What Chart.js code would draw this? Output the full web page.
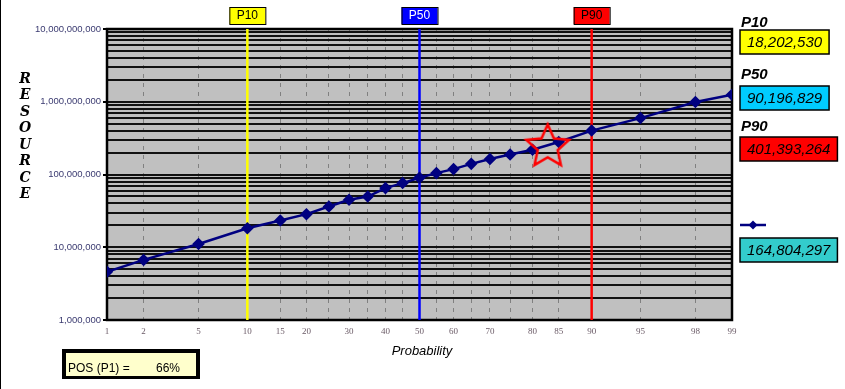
<!DOCTYPE html>
<html>
<head>
<meta charset="utf-8">
<script src="https://cdn.jsdelivr.net/npm/chart.js@4.4.1/dist/chart.umd.min.js"></script>
<style>
html,body{margin:0;padding:0;background:#fff;}
#wrap{width:845px;height:389px;}
</style>
</head>
<body>
<div id="wrap"><canvas id="chart" width="845" height="389"></canvas></div>
<script>
// datos
const probs = [1, 2, 5, 10, 15, 20, 25, 30, 35, 40, 45, 50, 55, 60, 65, 70, 75, 80, 85, 90, 95, 98, 99];
const resource = [4.6e6, 6.7e6, 11.1e6, 18.2e6, 23.3e6, 28.5e6, 36.3e6, 44.9e6, 49.8e6, 65e6, 76.2e6, 90.2e6,
                  104.5e6, 118.6e6, 140e6, 163e6, 188e6, 219e6, 280e6, 401.4e6, 596e6, 990e6, 1250e6];
const gridProbs = [1, 2, 5, 10, 15, 20, 25, 30, 35, 40, 45, 50, 55, 60, 65, 70, 75, 80, 85, 90, 95, 98, 99];
const labelProbs = [1, 2, 5, 10, 15, 20, 30, 40, 50, 60, 70, 80, 85, 90, 95, 98, 99];
const decades = [1e6, 1e7, 1e8, 1e9, 1e10];
const pNames = ['P10', 'P50', 'P90'];
const pProbs = [10, 50, 90];
const pValues = [18202530, 90196829, 401393264];
const pLineColors = ['#FFFF00', '#0000FF', '#FF0000'];
const pBoxColors = ['#FFFF00', '#00CCFF', '#FF0000'];
const meanValue = 164804297;
const starProb = 83;
const starValue = 240e6;
const posValue = 66;

// escala de probabilidad normal
function probit(p) {
  const a = [-3.969683028665376e+01, 2.209460984245205e+02, -2.759285104469687e+02, 1.383577518672690e+02, -3.066479806614716e+01, 2.506628277459239e+00];
  const b = [-5.447609879822406e+01, 1.615858368580409e+02, -1.556989798598866e+02, 6.680131188771972e+01, -1.328068155288572e+01];
  const c = [-7.784894002430293e-03, -3.223964580411365e-01, -2.400758277161838e+00, -2.549732539343734e+00, 4.374664141464968e+00, 2.938163982698783e+00];
  const d = [7.784695709041462e-03, 3.224671290700398e-01, 2.445134137142996e+00, 3.754408661907416e+00];
  const pl = 0.02425;
  let q, r;
  if (p < pl) {
    q = Math.sqrt(-2 * Math.log(p));
    return (((((c[0]*q+c[1])*q+c[2])*q+c[3])*q+c[4])*q+c[5]) / ((((d[0]*q+d[1])*q+d[2])*q+d[3])*q+1);
  }
  if (p > 1 - pl) {
    q = Math.sqrt(-2 * Math.log(1 - p));
    return -(((((c[0]*q+c[1])*q+c[2])*q+c[3])*q+c[4])*q+c[5]) / ((((d[0]*q+d[1])*q+d[2])*q+d[3])*q+1);
  }
  q = p - 0.5; r = q * q;
  return (((((a[0]*r+a[1])*r+a[2])*r+a[3])*r+a[4])*r+a[5])*q / (((((b[0]*r+b[1])*r+b[2])*r+b[3])*r+b[4])*r+1);
}

let yTicks = [];
for (const d of decades) {
  if (d === 1e10) { yTicks.push(d); break; }
  for (let m = 1; m <= 9; m++) yTicks.push(d * m);
}
const isDecade = v => Math.abs(Math.log10(v) - Math.round(Math.log10(v))) < 1e-9;

// estrella de contorno
const starImg = document.createElement('canvas');
starImg.width = 52; starImg.height = 52;
(function () {
  const c = starImg.getContext('2d');
  const R = 22.5, r = 10.5;
  c.beginPath();
  for (let i = 0; i < 10; i++) {
    const ang = -Math.PI / 2 + i * Math.PI / 5;
    const rad = i % 2 ? r : R;
    c.lineTo(26 + rad * Math.cos(ang), 26 + rad * Math.sin(ang));
  }
  c.closePath();
  c.strokeStyle = '#FF0000';
  c.lineWidth = 2.5;
  c.stroke();
})();

const fmt = v => v.toLocaleString('en-US');

const decor = {
  id: 'decor',
  beforeDraw(chart) {
    const ctx = chart.ctx, a = chart.chartArea;
    ctx.save();
    ctx.fillStyle = '#fff';
    ctx.fillRect(0, 0, chart.width, chart.height);
    ctx.fillStyle = '#C0C0C0';
    ctx.fillRect(a.left, a.top, a.right - a.left, a.bottom - a.top);
    ctx.strokeStyle = '#000';
    ctx.lineWidth = 1;
    ctx.beginPath(); ctx.moveTo(0.5, 0); ctx.lineTo(0.5, chart.height); ctx.stroke();
    ctx.restore();
  },
  beforeDatasetsDraw(chart) {
    const ctx = chart.ctx, a = chart.chartArea;
    ctx.save();
    ctx.strokeStyle = '#000';
    ctx.lineWidth = 2.5;
    ctx.strokeRect(a.left, a.top, a.right - a.left, a.bottom - a.top);
    ctx.restore();
  },
  afterDraw(chart) {
    const ctx = chart.ctx, xs = chart.scales.x;
    ctx.save();
    ctx.textBaseline = 'middle';
    // etiquetas arriba de las lineas
    pNames.forEach((n, i) => {
      const px = xs.getPixelForValue(probit(pProbs[i] / 100));
      ctx.fillStyle = pLineColors[i];
      ctx.fillRect(px - 18, 7, 36, 17);
      ctx.strokeStyle = '#000'; ctx.lineWidth = 1;
      ctx.strokeRect(px - 18 + 0.5, 7.5, 36, 17);
      ctx.fillStyle = i === 1 ? '#fff' : '#000';
      ctx.font = '12px "Liberation Sans", Arial, sans-serif';
      ctx.textAlign = 'center';
      ctx.fillText(n, px, 16);
    });
    // cajas a la derecha
    const labelY = [22.5, 75, 127];
    const boxY = [30, 86, 137];
    ctx.textAlign = 'left';
    pNames.forEach((n, i) => {
      ctx.font = 'bold italic 15px "Liberation Sans", Arial, sans-serif';
      ctx.fillStyle = '#000';
      ctx.fillText(n, 741, labelY[i]);
      drawBox(ctx, 740, boxY[i], fmt(pValues[i]), pBoxColors[i]);
    });
    // leyenda de la serie
    ctx.strokeStyle = '#000080'; ctx.lineWidth = 2.5;
    ctx.beginPath(); ctx.moveTo(740, 225); ctx.lineTo(766, 225); ctx.stroke();
    ctx.fillStyle = '#000080';
    ctx.beginPath(); ctx.moveTo(753, 220.5); ctx.lineTo(757.5, 225); ctx.lineTo(753, 229.5); ctx.lineTo(748.5, 225); ctx.closePath(); ctx.fill();
    drawBox(ctx, 740, 238, fmt(meanValue), '#33CCCC');
    // POS
    ctx.fillStyle = '#000';
    ctx.fillRect(62, 349, 138, 30);
    ctx.fillStyle = '#FFFFCC';
    ctx.fillRect(66, 353, 130, 23);
    ctx.fillStyle = '#000';
    ctx.font = '12px "Liberation Sans", Arial, sans-serif';
    ctx.fillText('POS (P1) =', 68, 369);
    ctx.fillText(posValue + '%', 156, 369);
    // titulos
    ctx.textAlign = 'center';
    ctx.font = 'italic 13px "Liberation Sans", Arial, sans-serif';
    ctx.fillStyle = '#000';
    ctx.fillText('Probability', 422, 351);
    ctx.font = 'bold italic 14px "DejaVu Serif", "Liberation Serif", serif';
    'RESOURCE'.split('').forEach((ch, i) => ctx.fillText(ch, 25, 79 + i * 16.5));
    ctx.restore();
  }
};

function drawBox(ctx, x, y, txt, color) {
  ctx.font = 'italic 15px "Liberation Sans", Arial, sans-serif';
  const w = ctx.measureText(txt).width + 14;
  ctx.fillStyle = color;
  ctx.fillRect(x, y, w, 24);
  ctx.strokeStyle = '#000'; ctx.lineWidth = 1.5;
  ctx.strokeRect(x, y, w, 24);
  ctx.fillStyle = '#000';
  ctx.textAlign = 'left';
  ctx.fillText(txt, x + 7, y + 13);
}

const lineSets = pProbs.map((p, i) => ({
  data: [{x: probit(p / 100), y: decades[0]}, {x: probit(p / 100), y: decades[decades.length - 1]}],
  showLine: true, borderColor: pLineColors[i], borderWidth: 2.5, pointRadius: 0, order: 3
}));

new Chart(document.getElementById('chart').getContext('2d'), {
  type: 'scatter',
  data: {
    datasets: [
      {
        data: [{x: probit(starProb / 100), y: starValue}],
        pointStyle: starImg, pointRadius: 20, order: 1
      },
      {
        data: probs.map((p, i) => ({x: probit(p / 100), y: resource[i]})),
        showLine: true, borderColor: '#000080', borderWidth: 2.5,
        pointStyle: 'rectRot', pointRadius: 4.5, pointBackgroundColor: '#000080', pointBorderColor: '#000080',
        order: 2
      },
      ...lineSets
    ]
  },
  options: {
    responsive: false,
    animation: false,
    layout: {padding: {left: 0, right: 113, top: 29, bottom: 39}},
    plugins: {legend: {display: false}, tooltip: {enabled: false}},
    scales: {
      x: {
        type: 'linear',
        min: probit(0.01), max: probit(0.99),
        afterBuildTicks: s => { s.ticks = gridProbs.map(p => ({value: probit(p / 100)})); },
        afterFit: s => { s.height = 30; },
        grid: {color: '#808080', lineWidth: 1, drawTicks: false},
        border: {display: false, dash: [4, 5]},
        ticks: {
          autoSkip: false, maxRotation: 0, padding: 6,
          color: '#6a5a66',
          font: {family: '"Liberation Serif", "Times New Roman", serif', size: 9},
          callback: (v, i) => labelProbs.includes(gridProbs[i]) ? String(gridProbs[i]) : ''
        }
      },
      y: {
        type: 'logarithmic',
        min: 1e6, max: 1e10,
        afterBuildTicks: s => { s.ticks = yTicks.map(v => ({value: v})); },
        afterFit: s => { s.width = 107; },
        grid: {
          color: '#111', lineWidth: 2, tickLength: 4,
          tickColor: c => (c.tick && isDecade(c.tick.value)) ? '#000' : 'rgba(0,0,0,0)'
        },
        border: {display: false},
        ticks: {
          autoSkip: false, padding: 2,
          color: '#3a3a70',
          font: {family: '"Liberation Sans", Arial, sans-serif', size: 9.5},
          callback: v => isDecade(v) ? fmt(v) : ''
        }
      }
    }
  },
  plugins: [decor]
});
</script>
</body>
</html>
